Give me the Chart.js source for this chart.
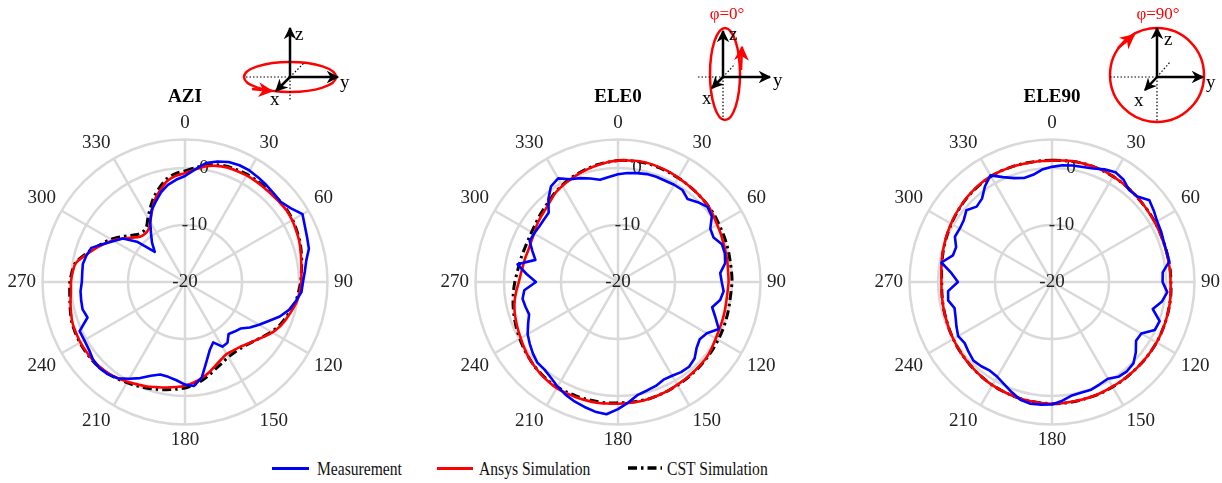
<!DOCTYPE html>
<html>
<head>
<meta charset="utf-8">
<script src="https://cdn.jsdelivr.net/npm/chart.js@4/dist/chart.umd.min.js"></script>
<style>
  body { margin: 0; width: 1222px; height: 483px; overflow: hidden; background: #fff; position: relative; font-family: "Liberation Serif", serif; }
  .plot { position: absolute; top: 88px; width: 420px; height: 362px; }
  .leg { position: absolute; top: 458px; font-size: 19.5px; color: #111; transform: scaleX(0.8); transform-origin: left center; white-space: nowrap; }
  .legline { position: absolute; top: 467px; height: 0; border-top: 3px solid; }
  svg { position: absolute; left: 0; top: 0; }
</style>
</head>
<body>
<div class="plot" style="left:-25px"><canvas id="azi"></canvas></div>
<div class="plot" style="left:408px"><canvas id="ele0"></canvas></div>
<div class="plot" style="left:842px"><canvas id="ele90"></canvas></div>

<!-- small axis sketches above the plots -->
<svg width="1222" height="130" font-family="Liberation Serif, serif">
  <defs>
    <marker id="ak" viewBox="0 0 10 10" refX="9" refY="5" markerWidth="5" markerHeight="5" orient="auto"><path d="M0,0 L10,5 L0,10 L3,5 z" fill="#000"/></marker>
    <marker id="ar" viewBox="0 0 10 10" refX="9" refY="5" markerWidth="6" markerHeight="6" orient="auto"><path d="M0,0 L10,5 L0,10 L3,5 z" fill="#f00"/></marker>
  </defs>
  <!-- AZI -->
  <g>
    <ellipse cx="290" cy="77" rx="46" ry="15" fill="none" stroke="#f00" stroke-width="2.5"/>
    <path d="M252,89 L272,91" stroke="#f00" stroke-width="2.5" marker-end="url(#ar)"/>
    <g stroke="#000" stroke-width="1.2" stroke-dasharray="1.5,2"><line x1="246" y1="77" x2="290" y2="77"/><line x1="290" y1="77" x2="290" y2="101"/><line x1="290" y1="77" x2="305" y2="62"/></g>
    <g stroke="#000" stroke-width="2.5"><line x1="290" y1="77" x2="290" y2="28" marker-end="url(#ak)"/><line x1="290" y1="77" x2="338" y2="77" marker-end="url(#ak)"/><line x1="290" y1="77" x2="276" y2="91" marker-end="url(#ak)"/></g>
    <text x="295" y="40" font-size="19">z</text><text x="340" y="88" font-size="19">y</text><text x="270" y="105" font-size="19">x</text>
  </g>
  <!-- ELE0 -->
  <g>
    <text x="727" y="19" font-size="17" fill="#f00" text-anchor="middle">φ=0°</text>
    <ellipse cx="725" cy="74" rx="15" ry="46" fill="none" stroke="#f00" stroke-width="2.5"/>
    <path d="M741,70 L742,47" stroke="#f00" stroke-width="2.5" marker-end="url(#ar)"/>
    <g stroke="#000" stroke-width="1.2" stroke-dasharray="1.5,2"><line x1="698" y1="77" x2="723" y2="77"/><line x1="723" y1="77" x2="723" y2="120"/><line x1="723" y1="77" x2="735" y2="64"/></g>
    <g stroke="#000" stroke-width="2.5"><line x1="723" y1="77" x2="723" y2="31" marker-end="url(#ak)"/><line x1="723" y1="77" x2="770" y2="77" marker-end="url(#ak)"/><line x1="723" y1="77" x2="712" y2="88" marker-end="url(#ak)"/></g>
    <text x="729" y="40" font-size="19">z</text><text x="773" y="86" font-size="19">y</text><text x="702" y="104" font-size="19">x</text>
  </g>
  <!-- ELE90 -->
  <g>
    <text x="1158" y="19" font-size="17" fill="#f00" text-anchor="middle">φ=90°</text>
    <circle cx="1157" cy="75" r="47" fill="none" stroke="#f00" stroke-width="2.5"/>
    <path d="M1118,48 L1134,35" stroke="#f00" stroke-width="2.5" marker-end="url(#ar)"/>
    <g stroke="#000" stroke-width="1.2" stroke-dasharray="1.5,2"><line x1="1110" y1="77" x2="1157" y2="77"/><line x1="1157" y1="77" x2="1157" y2="122"/><line x1="1157" y1="77" x2="1170" y2="62"/></g>
    <g stroke="#000" stroke-width="2.5"><line x1="1157" y1="77" x2="1157" y2="28" marker-end="url(#ak)"/><line x1="1157" y1="77" x2="1203" y2="77" marker-end="url(#ak)"/><line x1="1157" y1="77" x2="1145" y2="90" marker-end="url(#ak)"/></g>
    <text x="1164" y="45" font-size="19">z</text><text x="1206" y="88" font-size="19">y</text><text x="1134" y="106" font-size="19">x</text>
  </g>
</svg>

<!-- legend -->
<div class="legline" style="left:272px;width:37px;border-color:#0000ff"></div>
<div class="leg" style="left:317px">Measurement</div>
<div class="legline" style="left:437px;width:36px;border-color:#ff0000"></div>
<div class="leg" style="left:479px">Ansys Simulation</div>
<svg width="40" height="10" style="left:628px;top:463px"><line x1="0" y1="5" x2="34" y2="5" stroke="#000" stroke-width="3.5" stroke-dasharray="9,4,2.5,4"/></svg>
<div class="leg" style="left:667px">CST Simulation</div>

<script>
// angle (deg), 5 deg step
const angles = [
  "0", "5", "10", "15", "20", "25", "30", "35", "40", "45", "50", "55",
  "60", "65", "70", "75", "80", "85", "90", "95", "100", "105", "110", "115",
  "120", "125", "130", "135", "140", "145", "150", "155", "160", "165", "170", "175",
  "180", "185", "190", "195", "200", "205", "210", "215", "220", "225", "230", "235",
  "240", "245", "250", "255", "260", "265", "270", "275", "280", "285", "290", "295",
  "300", "305", "310", "315", "320", "325", "330", "335", "340", "345", "350", "355"
];
const rMin = -20;
const rMax = 5;
const rStep = 10;

// AZI (dB)
const aziMeas = [
  -1.4, -0.2, 1.2, 1.9, 2.4, 2.6, 2.6, 2.4, 2.2, 2.0, 1.9, 2.6,
  3.8, 3.2, 2.8, 2.5, 1.6, 1.1, 0.7, 0.5, -0.3, -1.1, -2.3, -3.8,
  -5.0, -6.1, -7.3, -7.7, -8.1, -7.0, -6.9, -8.3, -7.3, -5.5, -3.0, -1.7,
  -2.0, -2.7, -3.1, -3.2, -2.5, -1.4, -0.4, 0.6, 1.1, 1.3, 1.1, 0.6,
  0.4, 0.4, -1.8, -1.4, -1.5, -1.6, -1.9, -1.9, -1.8, -2.1, -2.5, -4.2,
  -5.6, -6.7, -9.0, -12.5, -11.0, -9.6, -7.8, -6.1, -5.0, -3.7, -2.7, -2.0
];
const aziAnsys = [
  -0.9, -0.2, 0.6, 1.1, 1.4, 1.5, 1.6, 1.6, 1.6, 1.6, 1.7, 1.8,
  1.7, 1.5, 1.3, 1.0, 0.7, 0.5, 0.4, 0.2, -0.1, -0.6, -1.1, -1.6,
  -2.3, -3.2, -4.0, -4.6, -5.1, -5.3, -5.4, -5.0, -4.4, -3.6, -2.9, -2.3,
  -1.8, -1.5, -1.2, -0.9, -0.5, -0.2, 0.2, 0.6, 0.9, 1.1, 1.2, 1.2,
  1.2, 1.1, 1.0, 0.7, 0.4, 0.1, 0.0, -0.2, -0.6, -1.9, -3.1, -4.3,
  -5.4, -6.7, -7.9, -8.8, -9.0, -8.8, -7.8, -6.3, -4.6, -3.3, -2.0, -1.3
];
const aziCst = [
  -0.5, 0.1, 0.8, 1.3, 1.6, 1.7, 1.8, 1.8, 1.8, 1.8, 1.9, 1.9,
  1.8, 1.6, 1.4, 1.1, 0.8, 0.5, 0.3, 0.0, -0.3, -0.8, -1.3, -1.8,
  -2.5, -3.3, -4.0, -4.5, -4.8, -4.9, -4.8, -4.4, -3.9, -3.2, -2.5, -1.9,
  -1.4, -1.1, -0.8, -0.5, -0.2, 0.1, 0.4, 0.7, 1.0, 1.2, 1.3, 1.3,
  1.3, 1.2, 1.1, 0.8, 0.5, 0.3, 0.2, -0.1, -0.5, -1.7, -2.9, -4.0,
  -5.0, -6.2, -7.3, -8.2, -8.5, -8.2, -7.0, -5.6, -4.1, -2.8, -1.6, -0.9
];

// ELE0 (dB)
const ele0Meas = [
  -1.1, -0.8, -0.6, -0.4, -0.35, -0.4, -0.3, -0.3, -1.0, -0.2, 0.5, 0.1,
  -1.3, -1.5, -0.6, -0.6, -0.9, -2.0, -1.8, -1.4, -1.8, -2.9, -1.8, -0.5,
  -2.0, -2.5, -2.0, -1.0, -0.6, -0.7, -1.0, -1.1, -0.6, -0.3, 0.1, 1.2,
  2.3, 3.3, 3.1, 2.7, 2.3, 1.8, 1.2, 0.5, 0.06, 0.0, -0.5, -1.1,
  -1.7, -2.6, -3.4, -3.2, -3.0, -3.5, -5.6, -3.9, -2.1, -5.0, -4.0, -2.9,
  -3.0, -3.1, -3.0, -2.8, -1.0, 0.5, 1.0, -0.1, -0.6, -1.2, -1.8, -1.5
];
const ele0Ansys = [
  1.3, 1.4, 1.5, 1.5, 1.4, 1.3, 1.1, 1.0, 0.9, 0.8, 0.7, 0.4,
  0.1, -0.1, -0.3, -0.4, -0.5, -0.6, -0.6, -0.7, -0.7, -0.6, -0.5, -0.4,
  -0.2, 0.1, 0.4, 0.5, 0.6, 0.7, 0.8, 1.0, 1.1, 1.2, 1.3, 1.3,
  1.35, 1.4, 1.5, 1.5, 1.5, 1.5, 1.5, 1.3, 1.1, 0.8, 0.5, 0.1,
  -0.3, -0.6, -0.9, -1.2, -1.6, -2.1, -2.6, -2.9, -3.1, -3.2, -3.3, -3.2,
  -3.0, -2.6, -2.3, -2.0, -1.5, -0.9, -0.5, -0.2, 0.2, 0.5, 0.8, 1.1
];
const ele0Cst = [
  1.3, 1.4, 1.4, 1.4, 1.3, 1.2, 1.1, 1.0, 0.9, 0.8, 0.7, 0.6,
  0.4, 0.3, 0.2, 0.1, 0.0, 0.0, 0.0, -0.1, -0.1, 0.0, 0.1, 0.2,
  0.3, 0.4, 0.5, 0.6, 0.7, 0.8, 0.9, 1.0, 1.1, 1.2, 1.2, 1.2,
  1.2, 1.3, 1.3, 1.3, 1.3, 1.3, 1.3, 1.2, 1.0, 0.8, 0.5, 0.2,
  -0.1, -0.4, -0.7, -1.0, -1.3, -1.6, -1.9, -2.2, -2.4, -2.5, -2.6, -2.6,
  -2.5, -2.3, -2.0, -1.7, -1.3, -0.8, -0.4, 0.0, 0.3, 0.6, 0.9, 1.1
];

// ELE90 (dB)
const ele90Meas = [
  0.2, 0.55, 0.75, 0.9, 1.2, 1.8, 2.25, 1.9, 1.05, 1.2, 2.3, 1.8,
  1.3, 1.1, 0.85, 0.8, 0.9, -0.5, -0.6, 0.3, -0.4, -1.7, 0.1, -0.1,
  -1.9, -2.0, -0.8, 0.2, 0.45, 0.3, -0.4, -0.2, 0.1, 0.05, 0.2, 0.9,
  1.5, 1.6, 1.7, 1.4, 0.6, -0.2, -0.8, -1.0, -0.7, -0.5, -0.9, -1.3,
  -1.0, -1.5, -2.0, -2.3, -1.5, -1.7, -3.5, -2.3, -0.3, -2.0, -2.1, -1.2,
  -1.3, -1.1, -0.4, -1.3, -0.9, 0.5, 1.6, 0.3, -0.6, -1.1, -0.9, -0.2
];
const ele90Ansys = [
  1.3, 1.4, 1.5, 1.5, 1.5, 1.5, 1.4, 1.3, 1.2, 1.1, 1.0, 0.9,
  0.85, 0.8, 0.75, 0.75, 0.75, 0.8, 0.8, 0.9, 1.0, 1.05, 1.1, 1.15,
  1.2, 1.2, 1.2, 1.2, 1.2, 1.2, 1.2, 1.25, 1.3, 1.3, 1.3, 1.35,
  1.35, 1.3, 1.25, 1.2, 1.1, 1.0, 0.9, 0.75, 0.6, 0.45, 0.3, 0.15,
  0.0, -0.15, -0.3, -0.4, -0.5, -0.55, -0.6, -0.5, -0.35, -0.15, 0.05, 0.25,
  0.45, 0.65, 0.85, 1.05, 1.2, 1.35, 1.45, 1.45, 1.4, 1.35, 1.3, 1.3
];
const ele90Cst = [
  1.35, 1.4, 1.45, 1.5, 1.5, 1.45, 1.4, 1.3, 1.2, 1.1, 1.0, 0.95,
  0.9, 0.85, 0.8, 0.8, 0.8, 0.85, 0.85, 0.95, 1.0, 1.05, 1.1, 1.15,
  1.2, 1.2, 1.2, 1.2, 1.2, 1.25, 1.25, 1.3, 1.3, 1.3, 1.35, 1.35,
  1.35, 1.3, 1.25, 1.2, 1.1, 1.0, 0.9, 0.75, 0.6, 0.45, 0.3, 0.15,
  0.0, -0.15, -0.3, -0.4, -0.5, -0.6, -0.65, -0.55, -0.4, -0.2, 0.0, 0.2,
  0.4, 0.6, 0.8, 1.0, 1.15, 1.3, 1.4, 1.45, 1.4, 1.4, 1.35, 1.35
];

const serif = "'Liberation Serif', 'Times New Roman', serif";

function makePolar(id, titulo, meas, ansys, cst) {
  const ctx = document.getElementById(id).getContext("2d");
  return new Chart(ctx, {
    type: "radar",
    data: {
      labels: angles,
      datasets: [
        { label: "Measurement", data: meas, borderColor: "#0000ff", borderWidth: 2.6, tension: 0 },
        { label: "Ansys Simulation", data: ansys, borderColor: "#ff0000", borderWidth: 2.6, tension: 0.3 },
        { label: "CST Simulation", data: cst, borderColor: "#000000", borderWidth: 3, borderDash: [9, 4, 2.5, 4], tension: 0.3 },
      ],
    },
    options: {
      responsive: true,
      maintainAspectRatio: false,
      animation: false,
      layout: { padding: 0 },
      elements: {
        point: { radius: 0, hoverRadius: 0 },
        line: { fill: false, borderJoinStyle: "round" },
      },
      plugins: {
        legend: { display: false },
        tooltip: { enabled: false },
        title: {
          display: true,
          text: titulo,
          color: "#000",
          padding: { top: 0, bottom: 7 },
          font: { family: serif, size: 19, weight: "bold", lineHeight: 1 },
        },
      },
      scales: {
        r: {
          min: rMin,
          max: rMax,
          beginAtZero: false,
          grid: { circular: true, color: "#d9d9d9", lineWidth: 2.5 },
          angleLines: {
            color: "#d9d9d9",
            lineWidth: (c) => (c.index % 6 === 0 ? 2.5 : 0),
          },
          pointLabels: {
            color: "#222",
            padding: -3,
            font: { family: serif, size: 19, lineHeight: 1 },
            callback: (label, i) => (i % 6 === 0 ? label : ""),
          },
          ticks: {
            stepSize: rStep,
            color: "#222",
            showLabelBackdrop: false,
            backdropPadding: 0,
            font: { family: serif, size: 19 },
            callback: function (value) {
              if (value === rMax) return "";
              // MATLAB puts the r labels a bit right of the 0 deg spoke
              if (value === -10) return "\u00a0\u00a0\u00a0\u00a0" + value;
              if (value === 0) return "\u00a0\u00a0\u00a0\u00a0\u00a0\u00a0\u00a0\u00a0" + value;
              return "" + value;
            },
          },
        },
      },
    },
  });
}

makePolar("azi", "AZI", aziMeas, aziAnsys, aziCst);
makePolar("ele0", "ELE0", ele0Meas, ele0Ansys, ele0Cst);
makePolar("ele90", "ELE90", ele90Meas, ele90Ansys, ele90Cst);
</script>
</body>
</html>
